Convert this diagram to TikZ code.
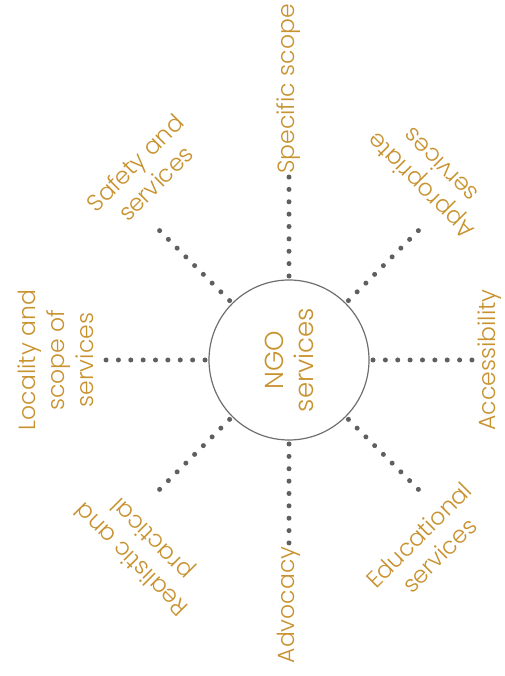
\documentclass[tikz,border=0pt]{standalone}
\usepackage{fontspec}
\setmainfont{Poppins}[UprightFont=* Light]
\usepackage{tikz}
\usetikzlibrary{calc}
\definecolor{gold}{HTML}{C8922F}
\definecolor{dotgray}{HTML}{5F5F5F}
\definecolor{ringgray}{HTML}{6E6E6E}
\tikzset{
  hub/.style={circle,draw=ringgray,line width=1.2pt,minimum size=160pt,
              inner sep=0pt,outer sep=0pt},
  hubtext/.style={text=gold,font=\fontsize{26}{30}\selectfont,align=center,
                  rotate=90},
  lbl/.style={text=gold,font=\fontsize{23.5}{29}\selectfont,align=center,
              inner sep=0pt},
  spoke/.style={draw=dotgray,line width=5pt,line cap=round,
                dash pattern=on 0pt off 12.37pt,shorten <=4pt}
}

\begin{document}
\begin{tikzpicture}[x=1pt,y=1pt]
    \path[use as bounding box] (0,0) rectangle (504,676);
    \node[hub] (ngo) at (289,316) {};
    \node[hubtext] (ngotxt) at (ngo) {NGO\\services};
    \foreach \a/\n in {0/acc,45/appr,90/spec,135/safe,180/loc,225/real,270/adv,315/edu}
      \coordinate (end-\n) at ($(ngo)+(\a:183)$);
    \node[lbl,rotate=90] (spec) at (289,587) {Specific scope};
    \node[lbl,rotate=90] (acc) at (490,316) {Accessibility};
    \node[lbl,rotate=90] (loc) at (56,316) {Locality and\\scope of\\services};
    \node[lbl,rotate=90] (adv) at (289,71) {Advocacy};
    \node[lbl,rotate=45] (safe) at (145,503) {Safety and\\services};
    \node[lbl,rotate=45] (edu) at (429,131) {Educational\\services};
    \node[lbl,rotate=135] (appr) at (430,500) {Appropriate\\services};
    \node[lbl,rotate=135] (real) at (143,128) {Realistic and\\practical};
    \foreach \a/\n in {0/acc,45/appr,90/spec,135/safe,180/loc,225/real,270/adv,315/edu}
      \draw[spoke] (ngo.\a) -- (end-\n);
  \end{tikzpicture}
\end{document}
